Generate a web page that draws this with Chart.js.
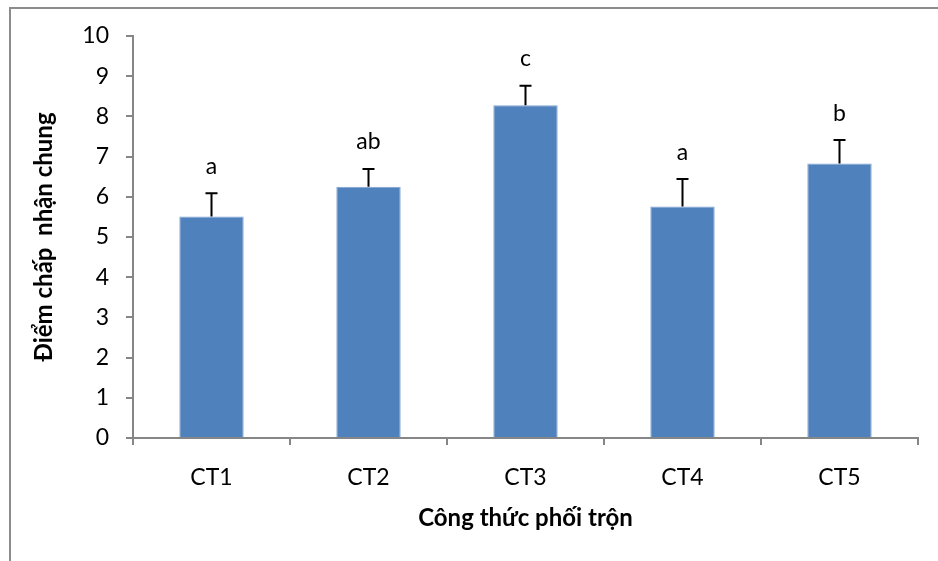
<!DOCTYPE html>
<html>
<head>
<meta charset="utf-8">
<script src="https://cdn.jsdelivr.net/npm/chart.js@4"></script>
<style>
  body { margin: 0; background: #fff; }
  canvas { display: block; }
</style>
</head>
<body>
<canvas id="bieuDo" width="938" height="561"></canvas>
<script>
// du lieu doc tu hinh
const congThuc = ['CT1', 'CT2', 'CT3', 'CT4', 'CT5'];
const diemTB = [5.51, 6.25, 8.28, 5.76, 6.83];
const saiSo = [0.58, 0.44, 0.48, 0.68, 0.58];
const kyHieu = ['a', 'ab', 'c', 'a', 'b'];

const FONT = 'Lato, "Open Sans", sans-serif';
const MAU_TRUC = '#868686';

// khung vien (chi co canh tren va canh trai)
const khungVien = {
  id: 'khungVien',
  beforeDraw(chart) {
    const ctx = chart.ctx;
    ctx.save();
    ctx.fillStyle = '#fff';
    ctx.fillRect(0, 0, chart.width, chart.height);
    ctx.strokeStyle = '#8c8c8c';
    ctx.lineWidth = 2;
    ctx.beginPath();
    ctx.moveTo(10, chart.height);
    ctx.lineTo(10, 8);
    ctx.lineTo(chart.width, 8);
    ctx.stroke();
    ctx.restore();
  }
};

// thanh sai so + chu cai
const saiSoPlugin = {
  id: 'saiSo',
  afterDatasetsDraw(chart) {
    const ctx = chart.ctx;
    const y = chart.scales.y;
    const meta = chart.getDatasetMeta(0);
    ctx.save();
    ctx.strokeStyle = '#000';
    ctx.lineWidth = 2;
    meta.data.forEach((bar, i) => {
      const yTren = y.getPixelForValue(diemTB[i] + saiSo[i]);
      ctx.beginPath();
      ctx.moveTo(bar.x, bar.y);
      ctx.lineTo(bar.x, yTren);
      ctx.moveTo(bar.x - 6, yTren);
      ctx.lineTo(bar.x + 6, yTren);
      ctx.stroke();

      ctx.fillStyle = '#000';
      ctx.font = '23px ' + FONT;
      ctx.textAlign = 'center';
      ctx.textBaseline = 'middle';
      ctx.fillText(kyHieu[i], bar.x, yTren - 27);
    });
    ctx.restore();
  }
};

new Chart(document.getElementById('bieuDo'), {
  type: 'bar',
  data: {
    labels: congThuc,
    datasets: [{
      data: diemTB,
      backgroundColor: '#4F81BD',
      borderColor: '#7FA3D1',
      borderWidth: 1,
      categoryPercentage: 1,
      barPercentage: 0.41
    }]
  },
  options: {
    responsive: false,
    animation: false,
    layout: { padding: { left: 10, top: 36, right: 20, bottom: 0 } },
    plugins: {
      legend: { display: false },
      tooltip: { enabled: false }
    },
    scales: {
      x: {
        afterFit(scale) { scale.height = 123; },
        grid: { drawOnChartArea: false, drawTicks: true, tickLength: 7, color: MAU_TRUC, lineWidth: 2 },
        border: { color: MAU_TRUC, width: 2 },
        ticks: { color: '#000', font: { family: FONT, size: 23 }, padding: 19 },
        title: {
          display: true,
          text: 'Công thức phối trộn',
          color: '#000',
          font: { family: FONT, size: 24, weight: 'bold' },
          padding: { top: 0, bottom: 28 }
        }
      },
      y: {
        min: 0,
        max: 10,
        afterFit(scale) { scale.width = 123; },
        grid: { drawOnChartArea: false, drawTicks: true, tickLength: 7, color: MAU_TRUC, lineWidth: 2 },
        border: { color: MAU_TRUC, width: 2 },
        ticks: { stepSize: 1, color: '#000', font: { family: FONT, size: 23 }, padding: 17 },
        title: {
          display: true,
          text: 'Điểm chấp  nhận chung',
          color: '#000',
          font: { family: FONT, size: 24, weight: 'bold' },
          padding: { top: 20, bottom: 0 }
        }
      }
    }
  },
  plugins: [khungVien, saiSoPlugin]
});
</script>
</body>
</html>
